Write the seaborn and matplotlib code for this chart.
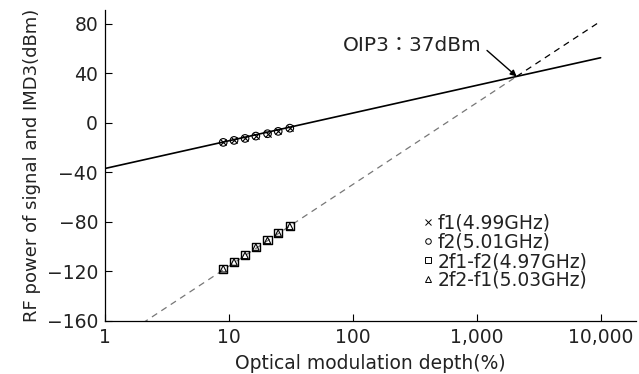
import matplotlib
matplotlib.use("Agg")
import matplotlib.pyplot as plt
from matplotlib.lines import Line2D
import numpy as np
import pandas as pd
import seaborn as sns

# measured points (optical modulation depth %, dBm)
depth = [9, 11, 13.5, 16.5, 20.5, 25, 31]
f1_power = [-15.9, -14.3, -12.7, -10.8, -8.9, -7.0, -4.4]
f2_power = [-15.9, -14.3, -12.7, -10.8, -8.9, -7.0, -4.4]
imd_low = [-118.0, -112.6, -107.2, -100.5, -95.1, -89.2, -83.8]
imd_high = [-118.0, -112.6, -107.2, -100.5, -95.1, -89.2, -83.8]

# fitted lines: start, OIP3 point, end
fit_depth = [1, 2100, 10000]
signal_fit = [-37.0, 37.4, 52.5]
imd_fit = [-182.0, 37.4, 82.0]

legend_labels = ["f1(4.99GHz)", "f2(5.01GHz)", "2f1-f2(4.97GHz)", "2f2-f1(5.03GHz)"]
x_ticks = [1, 10, 100, 1000, 10000]
x_tick_labels = ["1", "10", "100", "1,000", "10,000"]
y_ticks = [-160, -120, -80, -40, 0, 40, 80]

sns.set_style("ticks")
plt.rcParams["font.family"] = ["DejaVu Sans", "Noto Sans CJK JP"]
plt.rcParams["axes.unicode_minus"] = True
plt.rcParams["text.color"] = "#222222"
plt.rcParams["axes.labelcolor"] = "#222222"

fig = plt.figure(figsize=(6.39, 3.74), dpi=100)
ax = fig.add_axes([0.1643, 0.1425, 0.831, 0.8305])

fit_df = pd.DataFrame({"depth": fit_depth, "signal": signal_fit, "imd": imd_fit})

# signal fit line
sns.lineplot(data=fit_df, x="depth", y="signal", color="black", linewidth=1.2, ax=ax)
# IMD3 fit: grey dashed below OIP3, black dashed above
sns.lineplot(data=fit_df.iloc[:2], x="depth", y="imd", color="#777777", linewidth=0.9,
             linestyle=(0, (5, 4)), ax=ax)
sns.lineplot(data=fit_df.iloc[1:], x="depth", y="imd", color="black", linewidth=0.9,
             linestyle=(0, (5, 4)), ax=ax)

pts = pd.DataFrame({"depth": depth, "f1": f1_power, "f2": f2_power,
                    "imd1": imd_low, "imd2": imd_high})
sns.scatterplot(data=pts, x="depth", y="f1", marker="x", color="black", s=20, linewidth=0.8, ax=ax, zorder=3)
sns.scatterplot(data=pts, x="depth", y="f2", marker="o", facecolor="none", edgecolor="black", s=30, linewidth=0.8, ax=ax, zorder=3)
sns.scatterplot(data=pts, x="depth", y="imd1", marker="s", facecolor="none", edgecolor="black", s=34, linewidth=1.0, ax=ax, zorder=3)
sns.scatterplot(data=pts, x="depth", y="imd2", marker="^", facecolor="none", edgecolor="black", s=22, linewidth=0.8, ax=ax, zorder=3)

ax.set_xscale("log")
ax.set_xlim(1, 19300)
ax.set_ylim(-160, 91)
ax.set_xticks(x_ticks)
ax.set_xticklabels(x_tick_labels)
ax.set_yticks(y_ticks)
ax.minorticks_off()
ax.tick_params(direction="in", length=5, width=0.8, labelsize=13.5, color="black",
               labelcolor="#222222", pad=5)
for s in ["top", "right"]:
    ax.spines[s].set_visible(False)
for s in ["left", "bottom"]:
    ax.spines[s].set_linewidth(0.9)
    ax.spines[s].set_color("black")

ax.set_xlabel("Optical modulation depth(%)", fontsize=13.5, labelpad=5)
ax.set_ylabel("RF power of signal and IMD3(dBm)", fontsize=13, labelpad=4)

ax.text(83, 62.5, "OIP3：37dBm", fontsize=14.5, ha="left", va="center")
ax.annotate("", xy=(2100, 37.4), xytext=(1211, 58.4),
            arrowprops=dict(arrowstyle="-|>", color="black", lw=1.0,
                            mutation_scale=9, shrinkA=0, shrinkB=0))

handles = [
    Line2D([], [], marker="x", color="black", linestyle="none", markersize=4, markeredgewidth=0.7),
    Line2D([], [], marker="o", color="black", mfc="none", linestyle="none", markersize=4, markeredgewidth=0.7),
    Line2D([], [], marker="s", color="black", mfc="none", linestyle="none", markersize=4, markeredgewidth=0.7),
    Line2D([], [], marker="^", color="black", mfc="none", linestyle="none", markersize=4, markeredgewidth=0.7),
]
ax.legend(handles, legend_labels, loc="upper left", bbox_to_anchor=(422 / 639, 1 - 214 / 374),
          bbox_transform=fig.transFigure, frameon=False, fontsize=13.5, handlelength=0.6,
          handletextpad=0.25, labelspacing=0.0, borderpad=0, borderaxespad=0)

fig.savefig("out.png", dpi=100)
